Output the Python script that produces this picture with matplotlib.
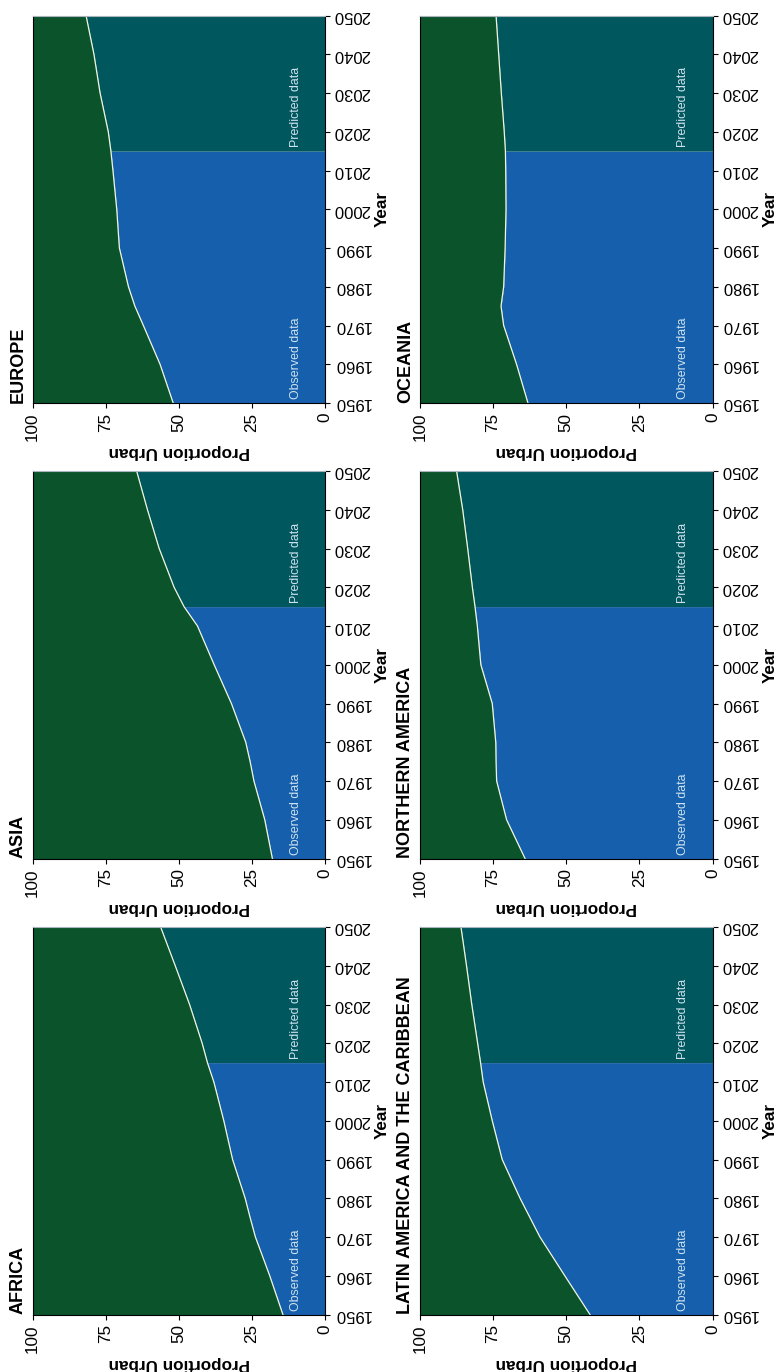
import numpy as np
import matplotlib
matplotlib.use("Agg")
import matplotlib.pyplot as plt

plt.rcParams['font.family'] = ['Liberation Sans', 'DejaVu Sans']

years = np.array([1950, 1960, 1970, 1975, 1980, 1990, 2000, 2010, 2015, 2020, 2030, 2040, 2050])
split_year = 2015

europe = np.array([51.9, 56.4, 62.1, 65.0, 67.2, 70.3, 71.2, 72.5, 73.2, 74.1, 76.9, 79.0, 81.7])
asia = np.array([18.0, 20.6, 24.3, 25.6, 27.1, 32.0, 37.9, 43.6, 48.2, 51.6, 56.7, 60.7, 64.4])
africa = np.array([14.4, 18.9, 23.8, 25.6, 27.3, 31.6, 34.6, 38.0, 40.2, 42.0, 46.3, 51.2, 56.2])
oceania = np.array([63.1, 67.0, 71.4, 72.3, 71.4, 70.9, 70.6, 70.7, 70.8, 71.2, 72.2, 73.1, 74.0])
northern_america = np.array([64.1, 70.4, 73.8, 74.0, 74.1, 75.3, 79.2, 80.4, 81.2, 82.1, 83.7, 85.4, 87.5])
latin_america = np.array([41.9, 50.5, 59.0, 62.4, 65.8, 71.9, 75.3, 78.4, 79.3, 80.3, 82.3, 84.1, 86.0])

panels = [
    ("EUROPE", europe),
    ("ASIA", asia),
    ("AFRICA", africa),
    ("OCEANIA", oceania),
    ("NORTHERN AMERICA", northern_america),
    ("LATIN AMERICA AND THE CARIBBEAN", latin_america),
]

green = '#0a532b'
blue = '#155fad'
teal = '#01575e'
note_col = '#cfe2ee'

W, H = 776, 1372
fig = plt.figure(figsize=(W / 100, H / 100), dpi=100)

col_left = [32.5, 420]
col_w = 292.5
row_top = [15.5, 471, 927]
row_h = 387.5

for i, (name, urban) in enumerate(panels):
    c, r = i // 3, i % 3
    rect = [col_left[c] / W, (H - row_top[r] - row_h) / H, col_w / W, row_h / H]
    ax = fig.add_axes(rect)

    obs = years <= split_year
    pred = years >= split_year
    ax.fill_betweenx(years, urban, 100, color=green, lw=0)
    ax.fill_betweenx(years[obs], 0, urban[obs], color=blue, lw=0)
    ax.fill_betweenx(years[pred], 0, urban[pred], color=teal, lw=0)
    ax.plot(urban, years, color='#eef5dc', lw=0.9)

    ax.set_xlim(100, 0)
    ax.set_ylim(1950, 2050)
    ax.set_xticks([100, 75, 50, 25, 0])
    ax.set_yticks(range(1950, 2051, 10))
    ax.yaxis.tick_right()
    ax.yaxis.set_label_position('right')
    ax.tick_params(labelsize=12.3, length=3.5, width=0.8)
    ax.tick_params(axis='y', labelsize=12, pad=2.5)
    plt.setp(ax.get_yticklabels(), rotation=180, va='center')
    plt.setp(ax.get_xticklabels(), rotation=90, ha='center')
    ax.set_xlabel('Proportion Urban', rotation=180, fontsize=12.3,
                  fontweight='bold', labelpad=2)
    ax.set_ylabel('Year', rotation=90, fontsize=12.3, fontweight='bold',
                  labelpad=3)
    for s in ax.spines.values():
        s.set_linewidth(0.8)
    ax.spines['top'].set_color('#aab4bc')

    ax.text(10, 1951, 'Observed data', rotation=90, ha='center', va='bottom',
            color=note_col, fontsize=8.9)
    ax.text(10, 2016, 'Predicted data', rotation=90, ha='center', va='bottom',
            color=note_col, fontsize=8.9)
    ax.text(-0.02, 0, name, transform=ax.transAxes, rotation=90, ha='right',
            va='bottom', fontsize=13, fontweight='bold')

fig.savefig('out.png', dpi=100)
